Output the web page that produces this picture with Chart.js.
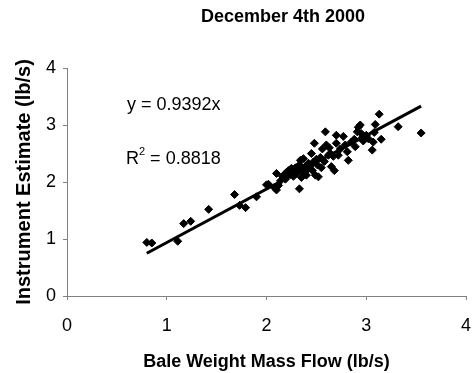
<!DOCTYPE html>
<html>
<head>
<meta charset="utf-8">
<script src="https://cdn.jsdelivr.net/npm/chart.js@4/dist/chart.umd.min.js"></script>
<style>
  body { margin: 0; background: #ffffff; }
  #wrap { width: 474px; height: 373px; }
</style>
</head>
<body>
<div id="wrap"><canvas id="chart" width="474" height="373"></canvas></div>
<script>
const chartTitle = "December 4th 2000";
const xTitle = "Bale Weight Mass Flow (lb/s)";
const yTitle = "Instrument Estimate (lb/s)";
const trendText = "y = 0.9392x";
const r2Value = "0.8818";

const baleFlow = [
  0.80, 0.85, 1.11, 1.17, 1.24, 1.42, 1.68, 1.73, 1.79, 1.90,
  2.00, 2.02, 2.08, 2.10, 2.10, 2.12, 2.14, 2.16, 2.18, 2.19,
  2.20, 2.22, 2.24, 2.25, 2.26, 2.27, 2.28, 2.29, 2.30, 2.31,
  2.32, 2.33, 2.33, 2.34, 2.35, 2.36, 2.36, 2.37, 2.38, 2.39,
  2.40, 2.41, 2.42, 2.43, 2.44, 2.45, 2.46, 2.47, 2.48, 2.49,
  2.50, 2.51, 2.52, 2.54, 2.55, 2.56, 2.58, 2.59, 2.60, 2.62,
  2.63, 2.64, 2.65, 2.67, 2.68, 2.70, 2.70, 2.72, 2.74, 2.77,
  2.79, 2.81, 2.82, 2.85, 2.88, 2.89, 2.91, 2.92, 2.94, 2.95,
  2.96, 2.97, 3.00, 3.02, 3.06, 3.07, 3.08, 3.09, 3.13, 3.15,
  3.32, 3.55,
];
const instrumentEst = [
  0.94, 0.93, 0.96, 1.27, 1.31, 1.52, 1.78, 1.59, 1.55, 1.74,
  1.95, 1.96, 1.90, 2.15, 1.86, 1.94, 2.02, 2.10, 2.12, 2.05,
  2.17, 2.20, 2.13, 2.24, 2.18, 2.10, 2.14, 2.25, 2.15, 2.26,
  2.20, 1.88, 2.30, 2.38, 2.08, 2.25, 2.19, 2.41, 2.17, 2.27,
  2.12, 2.22, 2.33, 2.26, 2.29, 2.50, 2.20, 2.35, 2.68, 2.12,
  2.40, 2.30, 2.09, 2.43, 2.25, 2.58, 2.36, 2.88, 2.65, 2.47,
  2.60, 2.50, 2.27, 2.45, 2.20, 2.82, 2.68, 2.47, 2.58, 2.80,
  2.65, 2.53, 2.38, 2.70, 2.75, 2.62, 2.88, 2.96, 3.00, 2.85,
  2.78, 2.72, 2.82, 2.76, 2.56, 2.70, 2.87, 3.01, 3.19, 2.75,
  2.97, 2.86,
];

const trendX = [0.80, 3.55];
const trendY = [0.75, 3.33];

const axisTicks = [0, 1, 2, 3, 4];

const fontFamily = "'Liberation Sans', Arial, sans-serif";
const axisGrey = "#808080";

const textPlugin = {
  id: "chartText",
  afterDraw(chart) {
    const ctx = chart.ctx;
    ctx.save();
    ctx.fillStyle = "#000000";
    ctx.textBaseline = "middle";

    ctx.font = `bold 18px ${fontFamily}`;
    ctx.textAlign = "center";
    ctx.fillText(chartTitle, 283, 17);

    ctx.textAlign = "left";
    ctx.font = `18px ${fontFamily}`;
    ctx.fillText(trendText, 127, 105);

    ctx.fillText("R", 126, 159);
    const rWidth = ctx.measureText("R").width;
    ctx.font = `11px ${fontFamily}`;
    ctx.fillText("2", 126 + rWidth, 152);
    const supWidth = ctx.measureText("2").width;
    ctx.font = `18px ${fontFamily}`;
    ctx.fillText(` = ${r2Value}`, 126 + rWidth + supWidth, 159);
    ctx.restore();
  },
};

function axisOptions(title, titleSize, titlePadding, fitSize, horizontal) {
  return {
    type: "linear",
    min: 0,
    max: 4,
    afterBuildTicks: (scale) => {
      scale.ticks = axisTicks.map((v) => {
        return { value: v };
      });
    },
    afterFit: (scale) => {
      if (horizontal) {
        scale.height = fitSize;
        scale.paddingLeft = 0;
        scale.paddingRight = 0;
      } else {
        scale.width = fitSize;
        scale.paddingTop = 0;
        scale.paddingBottom = 0;
      }
    },
    border: { display: true, color: axisGrey, width: 1 },
    grid: {
      display: true,
      drawOnChartArea: false,
      drawTicks: true,
      tickLength: 4,
      color: axisGrey,
    },
    ticks: {
      color: "#000000",
      font: { family: fontFamily, size: 18 },
      padding: horizontal ? 15 : 7,
      maxRotation: 0,
    },
    title: {
      display: true,
      text: title,
      color: "#000000",
      font: { family: fontFamily, size: titleSize, weight: "bold" },
      padding: titlePadding,
    },
  };
}

function createChart() {
  const ctx = document.getElementById("chart").getContext("2d");
  return new Chart(ctx, {
    type: "scatter",
    data: {
      datasets: [
        {
          label: "Instrument Estimate",
          data: baleFlow.map((x, i) => {
            return { x: x, y: instrumentEst[i] };
          }),
          pointStyle: "rectRot",
          pointRadius: 4,
          pointBackgroundColor: "#000000",
          pointBorderColor: "#000000",
          pointBorderWidth: 1,
        },
        {
          label: "Linear",
          type: "line",
          data: trendX.map((x, i) => {
            return { x: x, y: trendY[i] };
          }),
          borderColor: "#000000",
          borderWidth: 3,
          pointRadius: 0,
          fill: false,
        },
      ],
    },
    options: {
      responsive: false,
      animation: false,
      layout: { padding: { top: 68, right: 8, left: 0, bottom: 0 } },
      plugins: {
        legend: { display: false },
        tooltip: { enabled: false },
        title: { display: false },
      },
      scales: {
        x: axisOptions(xTitle, 18, { top: 4, bottom: 0 }, 77, true),
        y: axisOptions(yTitle, 20, { top: 12, bottom: 4 }, 67, false),
      },
    },
    plugins: [textPlugin],
  });
}

createChart();
</script>
</body>
</html>
